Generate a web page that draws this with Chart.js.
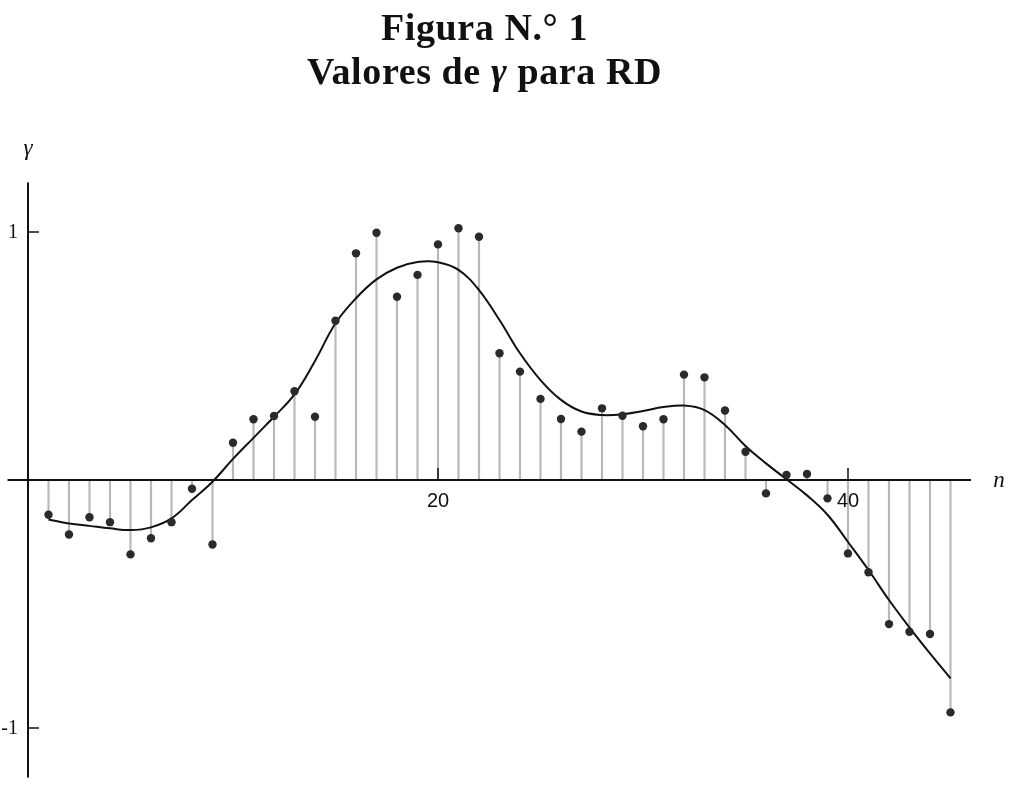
<!DOCTYPE html>
<html>
<head>
<meta charset="utf-8">
<script src="https://cdn.jsdelivr.net/npm/chart.js@4.4.1/dist/chart.umd.min.js"></script>
<style>
    body { margin: 0; background: #fff; }
    #wrap { position: relative; width: 1019px; height: 800px; }
    #chart { position: absolute; left: 0; top: 0; }
    .title {
        position: absolute;
        left: -50px;
        width: 1069px;
        text-align: center;
        font-family: "Liberation Serif", "DejaVu Serif", serif;
        font-weight: bold;
        font-size: 38px;
        letter-spacing: 0.6px;
        color: #111;
    }
</style>
</head>
<body>
<div id="wrap">
    <canvas id="chart" width="1019" height="800"></canvas>
    <div class="title" style="top: 5px;">Figura N.° 1</div>
    <div class="title" style="top: 49px;">Valores de <i>γ</i> para RD</div>
</div>
<script>
// n = 1..45
const nValues = [
    1, 2, 3, 4, 5, 6, 7, 8, 9, 10,
    11, 12, 13, 14, 15, 16, 17, 18, 19, 20,
    21, 22, 23, 24, 25, 26, 27, 28, 29, 30,
    31, 32, 33, 34, 35, 36, 37, 38, 39, 40,
    41, 42, 43, 44, 45,
];

// valores observados de gamma
const gammaValues = [
    -0.14, -0.22, -0.15, -0.17, -0.30, -0.235, -0.17, -0.035, -0.26, 0.15,
    0.245, 0.258, 0.358, 0.255, 0.642, 0.914, 0.997, 0.739, 0.827, 0.95,
    1.015, 0.981, 0.511, 0.437, 0.327, 0.246, 0.195, 0.289, 0.259, 0.217,
    0.245, 0.425, 0.414, 0.28, 0.114, -0.054, 0.02, 0.024, -0.074, -0.296,
    -0.372, -0.581, -0.612, -0.621, -0.937,
];

// curva suavizada
const smoothValues = [
    -0.159, -0.175, -0.185, -0.195, -0.202, -0.191, -0.155, -0.081, -0.007, 0.085,
    0.17, 0.255, 0.345, 0.48, 0.632, 0.733, 0.809, 0.856, 0.879, 0.878,
    0.847, 0.766, 0.645, 0.511, 0.403, 0.323, 0.276, 0.262, 0.265, 0.278,
    0.294, 0.300, 0.282, 0.222, 0.137, 0.067, 0.003, -0.062, -0.14, -0.25,
    -0.363, -0.484, -0.595, -0.699, -0.80,
];

const xTicks = [20, 40];
const yTicks = [1, -1];

const points = nValues.map((n, i) => ({ x: n, y: gammaValues[i] }));
const curve = nValues.map((n, i) => ({ x: n, y: smoothValues[i] }));

// Dibuja los ejes cruzados en el origen
const crossAxes = {
    id: "crossAxes",
    afterDatasetsDraw(chart) {
        const { ctx, chartArea, scales } = chart;
        const x0 = scales.x.getPixelForValue(0);
        const y0 = scales.y.getPixelForValue(0);

        ctx.save();
        ctx.strokeStyle = "#111";
        ctx.lineWidth = 2;
        ctx.beginPath();
        ctx.moveTo(chartArea.left, y0);
        ctx.lineTo(chartArea.right, y0);
        ctx.moveTo(x0, chartArea.top);
        ctx.lineTo(x0, chartArea.bottom);
        ctx.stroke();

        ctx.lineWidth = 1.5;
        ctx.fillStyle = "#111";
        ctx.font = "20px 'Liberation Sans', Arial, sans-serif";
        ctx.textAlign = "center";
        ctx.textBaseline = "middle";
        xTicks.forEach((t) => {
            const px = scales.x.getPixelForValue(t);
            ctx.beginPath();
            ctx.moveTo(px, y0);
            ctx.lineTo(px, y0 - 12);
            ctx.stroke();
            ctx.fillText(String(t), px, y0 + 21);
        });

        ctx.font = "20px 'Liberation Serif', serif";
        ctx.textAlign = "right";
        yTicks.forEach((t) => {
            const py = scales.y.getPixelForValue(t);
            ctx.beginPath();
            ctx.moveTo(x0, py);
            ctx.lineTo(x0 + 11, py);
            ctx.stroke();
            ctx.fillText(t < 0 ? "-1" : "1", x0 - 10, py + 1);
        });

        ctx.font = "italic 23px 'Liberation Serif', serif";
        ctx.textAlign = "center";
        ctx.fillText("γ", x0, chartArea.top - 33);
        ctx.fillText("n", chartArea.right + 28, y0 + 1);
        ctx.restore();
    },
};

new Chart(document.getElementById("chart"), {
    data: {
        datasets: [
            {
                type: "scatter",
                data: points,
                pointRadius: 4.2,
                pointBackgroundColor: "#2a2a2a",
                pointBorderWidth: 0,
                order: 1,
            },
            {
                type: "line",
                data: curve,
                borderColor: "#111",
                borderWidth: 2,
                pointRadius: 0,
                tension: 0.4,
                order: 2,
            },
            {
                type: "bar",
                data: points,
                backgroundColor: "#b8b8b8",
                barThickness: 1.5,
                order: 3,
            },
        ],
    },
    options: {
        responsive: false,
        animation: false,
        layout: {
            padding: { left: 7.5, right: 48, top: 182.4, bottom: 22.4 },
        },
        plugins: {
            legend: { display: false },
            tooltip: { enabled: false },
        },
        scales: {
            x: { type: "linear", min: -1, max: 46, offset: false, display: false },
            y: { type: "linear", min: -1.2, max: 1.2, display: false },
        },
    },
    plugins: [crossAxes],
});
</script>
</body>
</html>
